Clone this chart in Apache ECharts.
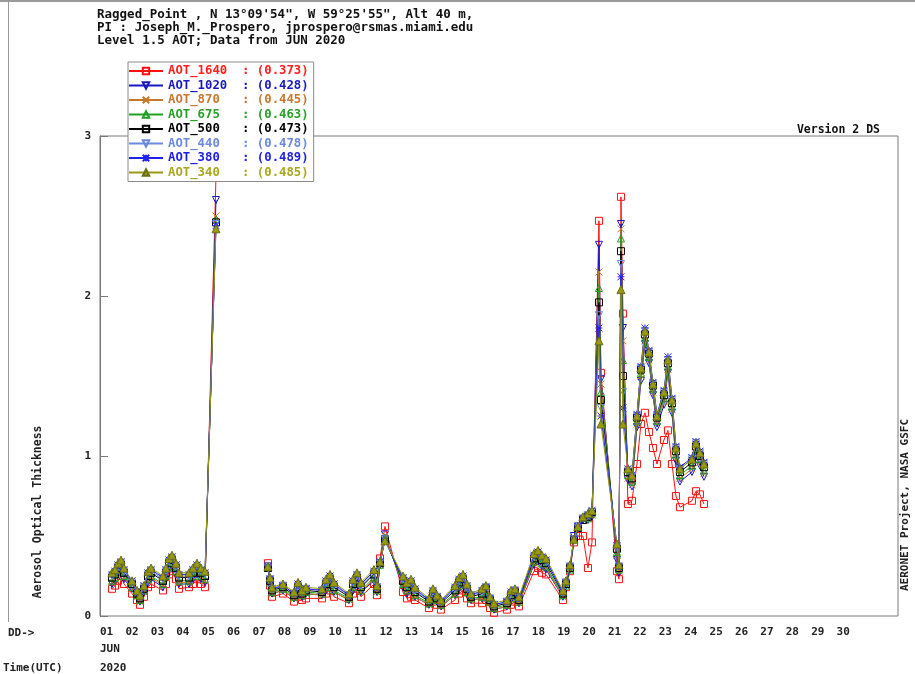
<!DOCTYPE html>
<html><head><meta charset="utf-8">
<script src="https://cdn.jsdelivr.net/npm/echarts@6/dist/echarts.min.js"></script>
<style>html,body{margin:0;padding:0;background:#fff}#c{width:915px;height:674px}</style>
</head><body><div id="c"></div>
<script>
// ---- data (time in days of June 2020, UTC) ----
const times = [1.472,1.591,1.709,1.827,1.945,
2.260,2.457,2.575,2.732,2.890,3.008,
3.480,3.598,3.717,3.835,3.992,4.110,
4.504,4.661,4.819,4.976,5.134,
5.567,
7.614,7.693,7.772,8.205,
8.638,8.795,8.953,9.110,
9.740,9.898,10.055,10.213,
10.803,10.961,11.118,11.276,
11.787,11.906,12.024,12.220,
12.929,13.087,13.244,13.402,
13.953,14.110,14.268,14.425,
14.976,15.134,15.291,15.449,15.606,
16.039,16.197,16.354,16.512,
17.024,17.181,17.339,17.496,
18.087,18.244,18.402,18.559,
19.228,19.346,19.504,19.661,19.819,20.016,20.213,20.370,
20.646,20.724,
21.354,21.433,
21.512,21.591,
21.787,21.945,
22.142,22.299,22.457,22.614,22.772,22.929,
23.205,23.362,23.520,23.677,23.835,
24.307,24.465,24.622,24.780];

const aot1640 = [0.17,0.19,0.22,0.25,0.20,
0.14,0.10,0.07,0.12,0.18,0.20,
0.16,0.20,0.26,0.28,0.23,0.17,
0.18,0.20,0.23,0.20,0.18,
2.75,
0.33,0.19,0.12,0.14,
0.09,0.12,0.10,0.11,
0.11,0.14,0.16,0.12,
0.08,0.14,0.17,0.12,
0.20,0.13,0.36,0.56,
0.15,0.11,0.12,0.10,
0.05,0.09,0.07,0.04,
0.10,0.14,0.16,0.11,0.08,
0.08,0.10,0.05,0.02,
0.04,0.07,0.09,0.06,
0.28,0.30,0.27,0.26,
0.10,0.18,0.28,0.46,0.50,0.50,0.30,0.46,
2.47,1.52,
0.28,0.23,
2.62,1.89,
0.70,0.72,
0.95,1.20,1.27,1.15,1.05,0.95,
1.10,1.16,0.95,0.75,0.68,
0.72,0.78,0.76,0.70];

const aot1020 = [0.20,0.22,0.26,0.28,0.23,
0.17,0.12,0.09,0.15,0.21,0.23,
0.18,0.23,0.29,0.31,0.26,0.20,
0.20,0.23,0.26,0.23,0.21,
2.60,
0.31,0.20,0.14,0.16,
0.11,0.15,0.12,0.14,
0.13,0.16,0.19,0.15,
0.10,0.16,0.20,0.15,
0.22,0.15,0.32,0.51,
0.18,0.14,0.16,0.12,
0.07,0.11,0.09,0.06,
0.13,0.17,0.19,0.14,0.10,
0.11,0.13,0.08,0.04,
0.06,0.10,0.12,0.08,
0.32,0.34,0.31,0.29,
0.12,0.19,0.29,0.50,0.56,0.60,0.60,0.62,
2.32,1.48,
0.35,0.27,
2.45,1.80,
0.85,0.81,
1.18,1.47,1.70,1.58,1.38,1.18,
1.32,1.52,1.27,0.97,0.84,
0.90,1.00,0.94,0.87];

const aot870 = [0.21,0.23,0.27,0.29,0.24,
0.17,0.12,0.09,0.15,0.22,0.24,
0.19,0.24,0.30,0.32,0.27,0.21,
0.21,0.24,0.27,0.24,0.22,
2.50,
0.31,0.21,0.14,0.16,
0.11,0.15,0.12,0.14,
0.13,0.17,0.20,0.15,
0.10,0.17,0.21,0.15,
0.23,0.15,0.32,0.50,
0.19,0.15,0.17,0.12,
0.07,0.11,0.09,0.06,
0.13,0.18,0.20,0.14,0.10,
0.11,0.14,0.08,0.04,
0.06,0.10,0.12,0.08,
0.33,0.35,0.32,0.30,
0.12,0.19,0.29,0.49,0.55,0.60,0.61,0.63,
2.15,1.45,
0.38,0.28,
2.42,1.72,
0.86,0.82,
1.20,1.50,1.72,1.60,1.40,1.20,
1.34,1.54,1.29,0.99,0.86,
0.92,1.02,0.96,0.89];

const aot675 = [0.22,0.24,0.28,0.30,0.25,
0.18,0.13,0.10,0.16,0.23,0.25,
0.20,0.25,0.31,0.33,0.28,0.22,
0.22,0.25,0.28,0.25,0.23,
2.48,
0.30,0.21,0.15,0.17,
0.12,0.16,0.13,0.15,
0.14,0.18,0.21,0.16,
0.11,0.18,0.22,0.16,
0.24,0.16,0.32,0.49,
0.20,0.16,0.18,0.13,
0.08,0.12,0.10,0.07,
0.14,0.19,0.21,0.15,0.11,
0.12,0.15,0.09,0.05,
0.07,0.11,0.13,0.09,
0.34,0.36,0.33,0.31,
0.13,0.19,0.29,0.48,0.55,0.60,0.61,0.64,
2.05,1.40,
0.40,0.29,
2.36,1.60,
0.88,0.84,
1.22,1.52,1.74,1.62,1.42,1.22,
1.36,1.56,1.31,1.01,0.88,
0.94,1.04,0.98,0.91];

const aot500 = [0.24,0.26,0.30,0.32,0.27,
0.20,0.14,0.11,0.17,0.25,0.27,
0.22,0.27,0.33,0.35,0.30,0.24,
0.24,0.27,0.30,0.27,0.25,
2.46,
0.30,0.22,0.16,0.18,
0.13,0.18,0.14,0.16,
0.15,0.20,0.23,0.18,
0.12,0.20,0.24,0.18,
0.26,0.17,0.33,0.48,
0.22,0.18,0.20,0.15,
0.09,0.14,0.11,0.08,
0.16,0.21,0.23,0.17,0.12,
0.14,0.17,0.10,0.06,
0.08,0.13,0.15,0.10,
0.36,0.38,0.35,0.33,
0.14,0.20,0.30,0.48,0.55,0.60,0.62,0.65,
1.96,1.35,
0.42,0.30,
2.28,1.50,
0.90,0.86,
1.24,1.54,1.76,1.64,1.44,1.24,
1.38,1.58,1.33,1.03,0.90,
0.96,1.06,1.00,0.93];

const aot440 = [0.25,0.27,0.31,0.33,0.28,
0.21,0.15,0.12,0.18,0.26,0.28,
0.23,0.28,0.34,0.36,0.31,0.25,
0.25,0.28,0.31,0.28,0.26,
2.45,
0.30,0.23,0.17,0.19,
0.14,0.19,0.15,0.17,
0.16,0.21,0.24,0.19,
0.13,0.21,0.25,0.19,
0.27,0.18,0.33,0.48,
0.23,0.19,0.21,0.16,
0.10,0.15,0.12,0.09,
0.17,0.22,0.24,0.18,0.13,
0.15,0.18,0.11,0.07,
0.09,0.14,0.16,0.11,
0.37,0.39,0.36,0.34,
0.15,0.21,0.31,0.48,0.55,0.61,0.63,0.65,
1.88,1.30,
0.43,0.31,
2.20,1.40,
0.91,0.87,
1.25,1.55,1.78,1.65,1.45,1.25,
1.40,1.60,1.35,1.05,0.92,
0.98,1.08,1.02,0.95];

const aot380 = [0.26,0.28,0.32,0.34,0.29,
0.22,0.15,0.12,0.19,0.27,0.29,
0.24,0.29,0.35,0.37,0.32,0.26,
0.26,0.29,0.32,0.29,0.27,
2.44,
0.31,0.23,0.17,0.19,
0.14,0.20,0.15,0.17,
0.16,0.22,0.25,0.20,
0.13,0.22,0.26,0.20,
0.28,0.18,0.34,0.47,
0.24,0.20,0.22,0.17,
0.10,0.16,0.12,0.09,
0.18,0.23,0.25,0.19,0.13,
0.16,0.18,0.11,0.07,
0.09,0.15,0.16,0.11,
0.38,0.40,0.37,0.35,
0.15,0.21,0.31,0.48,0.56,0.61,0.63,0.66,
1.80,1.25,
0.44,0.31,
2.12,1.30,
0.92,0.88,
1.26,1.56,1.80,1.66,1.46,1.26,
1.41,1.62,1.36,1.06,0.93,
0.99,1.09,1.03,0.96];

const aot340 = [0.27,0.29,0.33,0.35,0.30,
0.22,0.16,0.13,0.19,0.28,0.30,
0.25,0.30,0.36,0.38,0.33,0.27,
0.27,0.30,0.33,0.30,0.28,
2.42,
0.31,0.24,0.18,0.20,
0.15,0.21,0.16,0.18,
0.17,0.23,0.26,0.21,
0.14,0.23,0.27,0.21,
0.29,0.19,0.34,0.47,
0.25,0.21,0.23,0.18,
0.11,0.17,0.13,0.10,
0.19,0.24,0.26,0.20,0.14,
0.17,0.19,0.12,0.08,
0.10,0.16,0.17,0.12,
0.39,0.41,0.38,0.36,
0.16,0.22,0.32,0.48,0.56,0.62,0.64,0.66,
1.72,1.20,
0.45,0.32,
2.04,1.20,
0.92,0.88,
1.25,1.55,1.78,1.65,1.45,1.25,
1.40,1.60,1.35,1.05,0.92,
0.98,1.08,1.02,0.95];

const seriesNames = ['AOT_1640','AOT_1020','AOT_870','AOT_675','AOT_500','AOT_440','AOT_380','AOT_340'];
const seriesValues = [aot1640, aot1020, aot870, aot675, aot500, aot440, aot380, aot340];
const legendMeans = ['0.373','0.428','0.445','0.463','0.473','0.478','0.489','0.485'];
const dayLabels = ['01','02','03','04','05','06','07','08','09','10','11','12','13','14','15','16','17','18','19','20','21','22','23','24','25','26','27','28','29','30'];
const yTicks = [0, 1, 2, 3];

// ---- styles ----
const colors = ['#ff1010','#1818c0','#c8782a','#20a020','#000000','#6a8ae0','#2020f0','#9a9a10'];
const textColors = ['#ff2020','#1818c0','#c87830','#2aa02a','#000000','#6a8ae0','#2020e0','#a8a820'];
const X_PATH = 'path://M0 0L10 10M10 0L0 10';
const AST_PATH = 'path://M0 0L10 10M10 0L0 10M5 0L5 10M0 5L10 5';
const symbols = ['rect','triangle',X_PATH,'triangle','rect','triangle',AST_PATH,'triangle'];
const rotates = [0,180,0,0,0,180,0,0];
const FONT = 'DejaVu Sans Mono';

function buildData(vals){
  const out = [];
  for (let i = 0; i < times.length; i++) {
    if (i > 0 && times[i] - times[i-1] > 1.0) out.push([(times[i]+times[i-1])/2, '-']);
    out.push([times[i], vals[i]]);
  }
  return out;
}

const series = seriesNames.map((n, k) => ({
  name: n, type: 'line', data: buildData(seriesValues[k]),
  symbol: symbols[k], symbolRotate: rotates[k], symbolSize: k === 7 ? 8 : 7,
  showAllSymbol: true, connectNulls: false,
  lineStyle: { color: colors[k], width: 1 },
  itemStyle: k === 7 ? { color: colors[k], borderColor: '#6a7010', borderWidth: 1 }
                     : { color: 'rgba(255,255,255,0)', borderColor: colors[k], borderWidth: 1 },
  emphasis: { disabled: true }, animation: false, z: 2 + k
}));

const chart = echarts.init(document.getElementById('c'), null, { renderer: 'canvas' });
chart.setOption({
  backgroundColor: '#ffffff',
  animation: false,
  grid: { left: 100, top: 136, width: 798, height: 480, show: true, borderColor: '#7a7a7a', borderWidth: 1, backgroundColor: 'transparent' },
  xAxis: {
    type: 'value', min: 1, max: 32.42, interval: 1,
    axisLine: { show: false }, axisTick: { show: false }, splitLine: { show: false },
    axisLabel: {
      margin: 11, align: 'left', color: '#222', fontFamily: FONT, fontWeight: 'bold', fontSize: 11,
      showMaxLabel: false,
      formatter: v => { const d = Math.round(v); return (Math.abs(v - d) < 1e-6 && d >= 1 && d <= dayLabels.length) ? dayLabels[d-1] : ''; }
    }
  },
  yAxis: {
    type: 'value', min: yTicks[0], max: yTicks[yTicks.length-1], interval: 1,
    axisLine: { show: true, lineStyle: { color: '#7a7a7a' } },
    axisTick: { show: true, inside: true, length: 8, lineStyle: { color: '#7a7a7a' } },
    splitLine: { show: false },
    axisLabel: { margin: 9, color: '#222', fontFamily: FONT, fontWeight: 'bold', fontSize: 11 }
  },
  legend: {
    orient: 'vertical', left: 128, top: 62,
    data: seriesNames.map((n, k) => ({ name: n, textStyle: { color: textColors[k] } })),
    itemWidth: 34, itemHeight: 8, itemGap: 2.5,
    padding: [3, 5, 3, 0],
    backgroundColor: '#ffffff', borderColor: '#8a8a8a', borderWidth: 1,
    selectedMode: false,
    textStyle: { fontFamily: FONT, fontWeight: 'bold', fontSize: 12.3, lineHeight: 12, padding: [0,0,0,0] },
    formatter: name => { const k = seriesNames.indexOf(name); return name.padEnd(10, ' ') + ': (' + legendMeans[k] + ')'; }
  },
  graphic: [
    { type: 'line', shape: { x1: 0, y1: 1, x2: 915, y2: 1 }, style: { stroke: '#9a9a9a', lineWidth: 2 }, silent: true },
    { type: 'line', shape: { x1: 8.5, y1: 0, x2: 8.5, y2: 622 }, style: { stroke: '#9a9a9a', lineWidth: 1 }, silent: true },
    { type: 'text', left: 97, top: 8, style: { text: 'Ragged_Point , N 13°09\'54", W 59°25\'55", Alt 40 m,', font: 'bold 12.5px "DejaVu Sans Mono"', fill: '#111' } },
    { type: 'text', left: 97, top: 21, style: { text: 'PI : Joseph_M._Prospero, jprospero@rsmas.miami.edu', font: 'bold 12.5px "DejaVu Sans Mono"', fill: '#111' } },
    { type: 'text', left: 97, top: 34, style: { text: 'Level 1.5 AOT; Data from JUN 2020', font: 'bold 12.5px "DejaVu Sans Mono"', fill: '#111' } },
    { type: 'text', x: 880, y: 130, style: { text: 'Version 2 DS', align: 'right', verticalAlign: 'middle', font: 'bold 11.5px "DejaVu Sans Mono"', fill: '#111' } },
    { type: 'text', x: 38, y: 512, rotation: Math.PI/2, style: { text: 'Aerosol Optical Thickness', align: 'center', verticalAlign: 'middle', font: 'bold 11.5px "DejaVu Sans Mono"', fill: '#222' } },
    { type: 'text', x: 905, y: 505, rotation: Math.PI/2, style: { text: 'AERONET Project, NASA GSFC', align: 'center', verticalAlign: 'middle', font: 'bold 11px "DejaVu Sans Mono"', fill: '#222' } },
    { type: 'text', x: 8, y: 633, style: { text: 'DD->', verticalAlign: 'middle', font: 'bold 11px "DejaVu Sans Mono"', fill: '#222' } },
    { type: 'text', x: 100, y: 649, style: { text: 'JUN', verticalAlign: 'middle', font: 'bold 11px "DejaVu Sans Mono"', fill: '#222' } },
    { type: 'text', x: 3, y: 668, style: { text: 'Time(UTC)', verticalAlign: 'middle', font: 'bold 11px "DejaVu Sans Mono"', fill: '#222' } },
    { type: 'text', x: 100, y: 668, style: { text: '2020', verticalAlign: 'middle', font: 'bold 11px "DejaVu Sans Mono"', fill: '#222' } }
  ],
  series: series
});
</script></body></html>
